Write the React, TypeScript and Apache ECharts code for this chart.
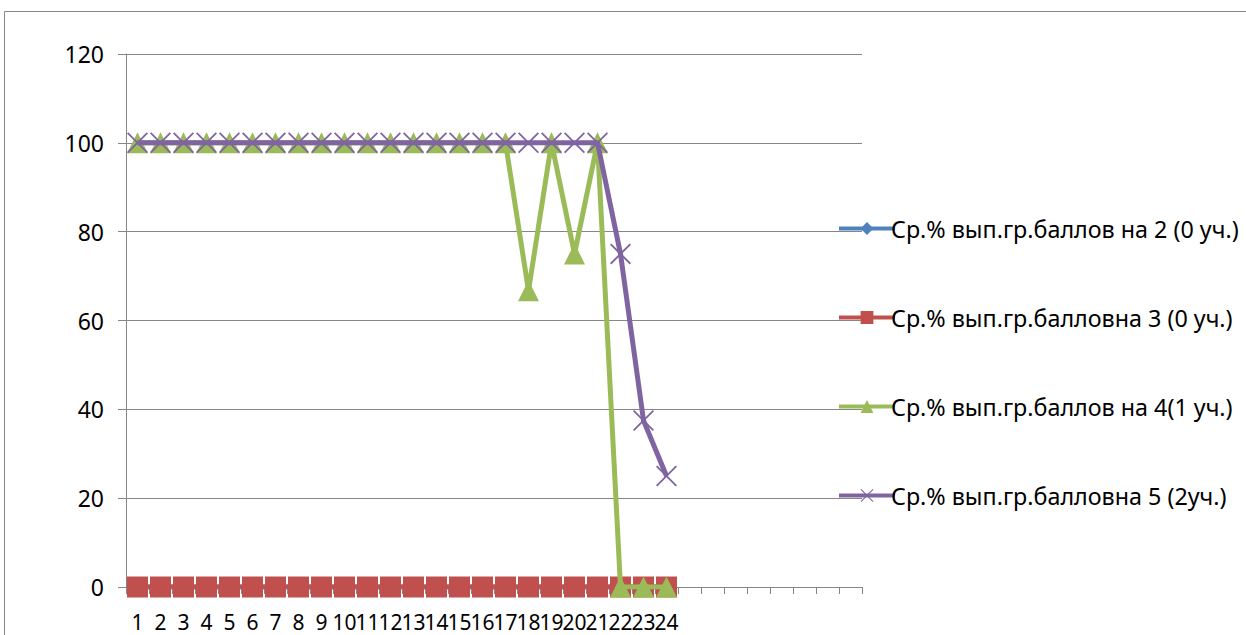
import React, { useEffect, useRef } from "react";
import * as echarts from "echarts";

const categories = Array.from({ length: 32 }, (_, i) => (i < 24 ? String(i + 1) : ""));
const seriesNames = [
  "Ср.% вып.гр.баллов на 2 (0 уч.)",
  "Ср.% вып.гр.балловна 3 (0 уч.)",
  "Ср.% вып.гр.баллов на 4(1 уч.)",
  "Ср.% вып.гр.балловна 5 (2уч.)",
];
const grade2 = [0, 0, 0, 0, 0, 0, 0, 0, 0, 0, 0, 0, 0, 0, 0, 0, 0, 0, 0, 0, 0, 0, 0, 0];
const grade3 = [0, 0, 0, 0, 0, 0, 0, 0, 0, 0, 0, 0, 0, 0, 0, 0, 0, 0, 0, 0, 0, 0, 0, 0];
const grade4 = [100, 100, 100, 100, 100, 100, 100, 100, 100, 100, 100, 100, 100, 100, 100, 100, 100, 66.7, 100, 75, 100, 0, 0, 0];
const grade5 = [100, 100, 100, 100, 100, 100, 100, 100, 100, 100, 100, 100, 100, 100, 100, 100, 100, 100, 100, 100, 100, 75, 37.5, 25];
const yTicks = { min: 0, max: 120, interval: 20 };

const colors = ["#4F81BD", "#C0504D", "#9BBB59", "#8064A2"];
const crossPath =
  "path://M0,6 L6,0 L50,44 L94,0 L100,6 L56,50 L100,94 L94,100 L50,56 L6,100 L0,94 L44,50 Z";
const symbols = ["diamond", "rect", "triangle", crossPath];
const symbolSizes = [16, 21, 21, 21];
const FONT = "Noto Sans";

export default function App() {
  const ref = useRef<HTMLDivElement>(null);
  useEffect(() => {
    const chart = echarts.init(ref.current!, null, { renderer: "svg" });
    const datas = [grade2, grade3, grade4, grade5];
    chart.setOption({
      animation: false,
      backgroundColor: "#ffffff",
      graphic: [
        {
          type: "rect",
          shape: { x: 4.5, y: 11.5, width: 1300, height: 700 },
          style: { fill: "none", stroke: "#868686", lineWidth: 1 },
          silent: true,
        },
      ],
      grid: { left: 126, right: 384, top: 54, bottom: 48, containLabel: false },
      xAxis: {
        type: "category",
        data: categories,
        boundaryGap: true,
        axisLine: { lineStyle: { color: "#868686", width: 1 } },
        axisTick: { show: true, length: 7, interval: 0, lineStyle: { color: "#868686" } },
        axisLabel: {
          interval: 0,
          color: "#000",
          fontSize: 21,
          lineHeight: 22,
          fontFamily: FONT,
          margin: 24,
        },
        splitLine: { show: false },
      },
      yAxis: {
        type: "value",
        min: yTicks.min,
        max: yTicks.max,
        interval: yTicks.interval,
        axisLine: { show: true, lineStyle: { color: "#868686", width: 1 } },
        axisTick: { show: true, length: 8, lineStyle: { color: "#868686" } },
        axisLabel: { color: "#000", fontSize: 23, fontFamily: FONT, margin: 22 },
        splitLine: { show: true, lineStyle: { color: "#868686", width: 1 } },
      },
      legend: {
        orient: "vertical",
        left: 832,
        top: 212,
        itemWidth: 56,
        itemHeight: 16,
        itemGap: 66,
        lineStyle: { width: 4 },
        textStyle: { color: "#000", fontSize: 23.3, fontFamily: FONT, padding: [0, 0, 0, -9] },
        data: seriesNames,
      },
      series: seriesNames.map((name, i) => ({
        name,
        type: "line",
        data: datas[i],
        color: colors[i],
        symbol: symbols[i],
        symbolSize: symbolSizes[i],
        showAllSymbol: true,
        lineStyle: { width: 5, color: colors[i] },
        itemStyle: { color: colors[i] },
        z: 2 + i,
      })),
    });
    return () => chart.dispose();
  }, []);
  return (
    <div
      ref={ref}
      style={{ position: "absolute", left: 0, top: 0, width: 1246, height: 635 }}
    />
  );
}
